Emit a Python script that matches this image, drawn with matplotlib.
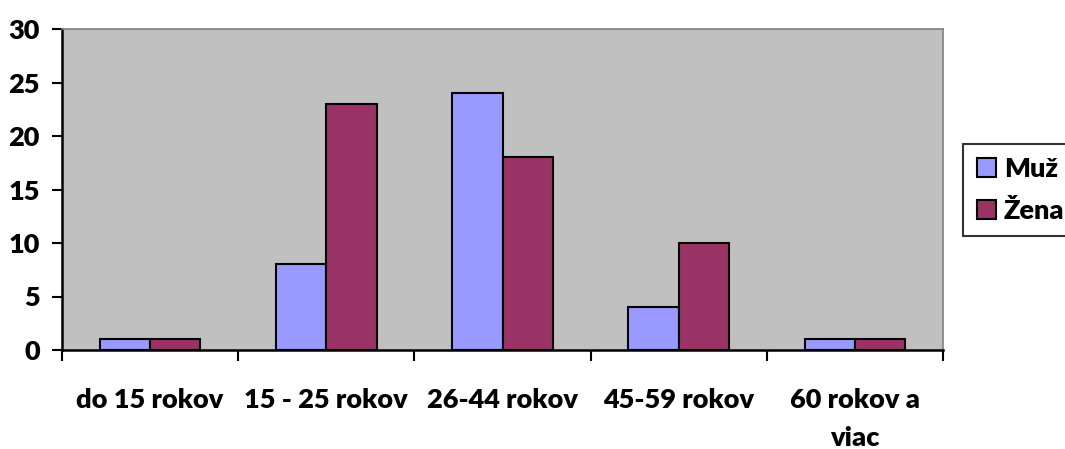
import numpy as np
import matplotlib.pyplot as plt

categories = ["do 15 rokov", "15 - 25 rokov", "26-44 rokov", "45-59 rokov", "60 rokov a\nviac"]
muz = [1, 8, 24, 4, 1]
zena = [1, 23, 18, 10, 1]

plt.rcParams['font.family'] = ['Lato', 'DejaVu Sans']
plt.rcParams['font.weight'] = 'heavy'
FS = 19.5

fig = plt.figure(figsize=(10.65, 4.49), dpi=100)
ax = fig.add_axes([62/1065, 1 - 350/449, (943 - 62)/1065, (350 - 29)/449])
ax.set_facecolor('#c0c0c0')

x = np.arange(len(categories))
w = 0.285
ax.bar(x - w/2, muz, w, color='#9999ff', edgecolor='black', linewidth=1.5, label='Muž', zorder=3)
ax.bar(x + w/2, zena, w, color='#993366', edgecolor='black', linewidth=1.5, label='Žena', zorder=3)

ax.set_xlim(-0.5, len(categories) - 0.5)
ax.set_ylim(0, 30)
ax.set_yticks(range(0, 31, 5))
ax.set_xticks(np.arange(-0.5, len(categories), 1.0))
ax.set_xticklabels([])
ax.set_xticks(x, minor=True)
ax.set_xticklabels(categories, minor=True, fontsize=FS, fontweight='heavy', linespacing=1.75)
ax.tick_params(axis='x', which='minor', length=0, pad=27)
ax.tick_params(axis='x', which='major', length=8, width=1.5, direction='out')
ax.tick_params(axis='y', length=7, width=1.5, direction='out', pad=9, labelsize=FS)
for lab in ax.get_yticklabels():
    lab.set_fontweight('heavy')

for s in ['left', 'bottom']:
    ax.spines[s].set_linewidth(1.8)
    ax.spines[s].set_color('black')
for s in ['top', 'right']:
    ax.spines[s].set_linewidth(1.2)
    ax.spines[s].set_color('#808080')

leg = fig.legend(loc='center left', bbox_to_anchor=(963/1065, 1 - 190/449),
                 fontsize=FS, frameon=True, fancybox=False, edgecolor='black',
                 handlelength=0.7, handleheight=0.7, handletextpad=0.3,
                 labelspacing=0.65, borderpad=0.5, borderaxespad=0)
leg.get_frame().set_linewidth(1.5)
for t in leg.get_texts():
    t.set_fontweight('heavy')

fig.savefig('out.png', dpi=100)
